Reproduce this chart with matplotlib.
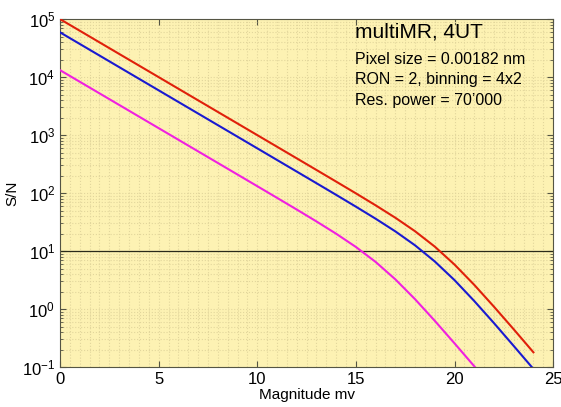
import numpy as np
import matplotlib
matplotlib.use('Agg')
import matplotlib.pyplot as plt
from matplotlib.ticker import LogLocator, MultipleLocator, NullFormatter

plt.rcParams['font.family'] = ['Liberation Sans', 'DejaVu Sans']

mag = [0, 1, 2, 3, 4, 5, 6, 7, 8, 9, 10, 11, 12, 13, 14, 15, 16, 17, 18, 19, 20, 21, 22, 23, 24]

sn_red = [100000, 63100, 39800, 25100, 15850, 10000, 6310, 3981, 2512, 1585, 999.9, 630.8,
          397.9, 250.8, 157.9, 99.1, 61.6, 37.6, 22.0, 11.95, 5.86, 2.62, 1.10, 0.449, 0.180]
sn_blue = [59200, 37350, 23570, 14870, 9383, 5920, 3735, 2357, 1487, 938.3, 591.9, 373.1,
           235.3, 148.3, 93.3, 58.4, 36.2, 21.9, 12.57, 6.63, 3.16, 1.38, 0.574, 0.232, 0.093]
sn_mag = [13190, 8323, 5252, 3314, 2091, 1319, 832.3, 525.1, 331.3, 208.9, 131.7, 82.97,
          52.1, 32.5, 19.93, 11.79, 6.51, 3.26, 1.481, 0.628, 0.257, 0.1036, 0.0415]

sn_limit = 10

fig = plt.figure(figsize=(5.61, 4.07), dpi=100)
ax = fig.add_axes([0.107, 0.098, 0.879, 0.855])
ax.set_facecolor('#fdf2b3')

ax.plot(mag, sn_red, color='#e0200a', lw=1.5, zorder=3)
ax.plot(mag, sn_blue, color='#1a1ad0', lw=1.5, zorder=3)
ax.plot(mag[:len(sn_mag)], sn_mag, color='#f020e0', lw=1.5, zorder=3)
ax.axhline(sn_limit, color='#2a2a1a', lw=0.9, zorder=2)

ax.set_yscale('log')
ax.set_xlim(0, 25)
ax.set_ylim(0.1, 1e5)
ax.xaxis.set_major_locator(MultipleLocator(5))
ax.xaxis.set_minor_locator(MultipleLocator(0.5))
ax.xaxis.set_minor_formatter(NullFormatter())
ax.yaxis.set_major_locator(LogLocator(base=10, numticks=10))
ax.yaxis.set_minor_locator(LogLocator(base=10, subs=np.arange(2, 10), numticks=20))
ax.yaxis.set_minor_formatter(NullFormatter())

ax.grid(True, which='both', color='#e2d69c', ls=':', lw=0.8, zorder=1)
ax.tick_params(which='both', direction='in', top=True, right=True, color='#555544', labelsize=12)
ax.tick_params(which='major', length=4)
ax.tick_params(axis='y', which='minor', length=2)
ax.tick_params(axis='x', which='minor', length=0)
for sp in ax.spines.values():
    sp.set_color('#555544')

ax.set_xlabel('Magnitude mv', fontsize=11, labelpad=1)
ax.set_ylabel('S/N', fontsize=11, labelpad=2)

ax.text(0.598, 0.99, 'multiMR, 4UT', transform=ax.transAxes, fontsize=15, va='top')
ax.text(0.598, 0.905, 'Pixel size = 0.00182 nm', transform=ax.transAxes, fontsize=11.5, va='top')
ax.text(0.598, 0.847, 'RON = 2, binning = 4x2', transform=ax.transAxes, fontsize=11.5, va='top')
ax.text(0.598, 0.789, 'Res. power = 70\u2019000', transform=ax.transAxes, fontsize=11.5, va='top')

fig.savefig('out.png', dpi=100)
